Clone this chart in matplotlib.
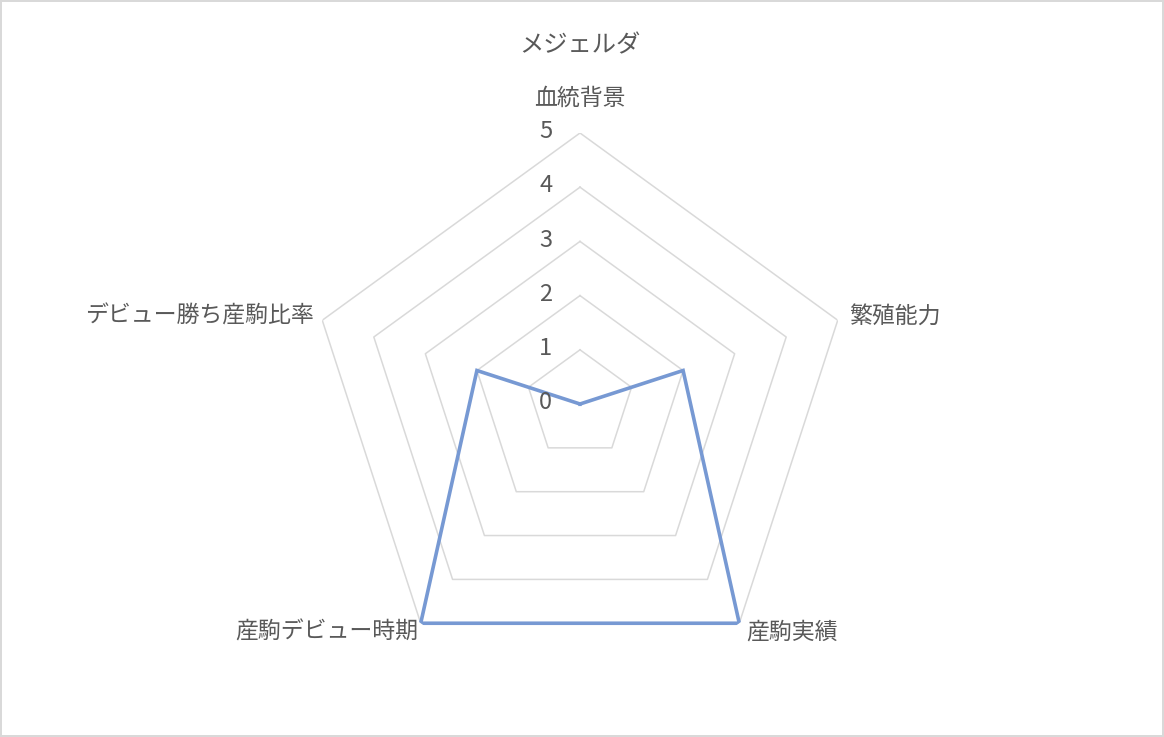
import numpy as np
import matplotlib
matplotlib.use("Agg")
import matplotlib.pyplot as plt

plt.rcParams['font.family'] = ['Noto Sans CJK JP', 'DejaVu Sans']

title = "メジェルダ"
categories = ["血統背景", "繁殖能力", "産駒実績", "産駒デビュー時期", "デビュー勝ち産駒比率"]
values = [0, 2, 5, 5, 2]
levels = [0, 1, 2, 3, 4, 5]

TEXT = '#595959'
GRID = '#d9d9d9'
LINE = '#7799d3'

n = len(categories)
theta = np.arange(n) * 2 * np.pi / n
theta_closed = np.append(theta, theta[0])

fig = plt.figure(figsize=(11.64, 7.37), dpi=100, edgecolor=GRID, linewidth=1.5)
# center at (580, 404) px, radius 271 px
ax = fig.add_axes([309 / 1164, (737 - 675) / 737, 542 / 1164, 542 / 737], projection='polar')
ax.set_theta_offset(np.pi / 2)
ax.set_theta_direction(-1)
ax.set_ylim(0, 5)
ax.grid(False)
ax.set_xticks([])
ax.set_yticks([])
ax.spines['polar'].set_visible(False)
ax.patch.set_visible(False)

# pentagon gridlines
for lv in levels[1:]:
    ax.plot(theta_closed, [lv] * (n + 1), color=GRID, lw=1.1, zorder=1)

# data series
vals_closed = values + values[:1]
ax.plot(theta_closed, vals_closed, color=LINE, lw=2.6, zorder=3, solid_joinstyle='miter')

# radial value labels
for lv in levels:
    ax.annotate(str(lv), xy=(0, lv), xytext=(-20, 1), textcoords='offset points',
                ha='right', va='center', fontsize=17, color=TEXT)

# category labels
offsets = [(0, 17), (8, 3), (5, -6), (-2, -6), (-6, 3)]
aligns = [('center', 'bottom'), ('left', 'center'), ('left', 'center'),
          ('right', 'center'), ('right', 'center')]
for t, lab, off, (ha, va) in zip(theta, categories, offsets, aligns):
    ax.annotate(lab, xy=(t, 5), xytext=off, textcoords='offset points',
                ha=ha, va=va, fontsize=16.5, color=TEXT)

fig.text(580 / 1164, 1 - 45 / 737, title, ha='center', va='center', fontsize=17.5, color=TEXT)

fig.savefig("out.png", dpi=100)
